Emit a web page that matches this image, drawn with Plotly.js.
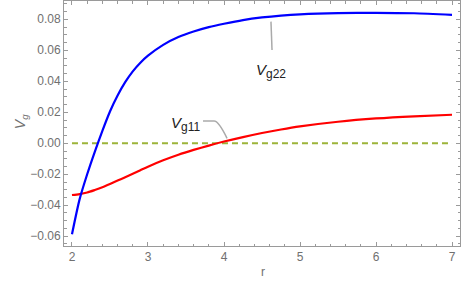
<!DOCTYPE html>
<html>
<head>
<meta charset="utf-8">
<script src="https://cdn.plot.ly/plotly-3.0.1.min.js"></script>
<style>html,body{margin:0;padding:0;background:#fff;}#chart{width:463px;height:292px;}</style>
</head>
<body>
<div id="chart"></div>
<script>
// Data
const r = [2.0, 2.1, 2.2, 2.3, 2.4, 2.5, 2.6, 2.7, 2.8, 2.9, 3.0, 3.2, 3.4, 3.6, 3.8, 4.0, 4.25, 4.5, 4.75, 5.0, 5.5, 6.0, 6.5, 7.0];
const vg22 = [-0.0587, -0.0362, -0.0200, -0.0055, 0.0080, 0.0205, 0.0308, 0.0394, 0.0464, 0.0520, 0.0565, 0.0635, 0.0685, 0.0721, 0.0749, 0.0771, 0.0795, 0.0812, 0.0824, 0.0832, 0.0840, 0.0842, 0.0839, 0.0829];
const vg11 = [-0.0334, -0.0328, -0.0318, -0.0302, -0.0284, -0.0263, -0.0241, -0.0219, -0.0197, -0.0174, -0.0151, -0.0110, -0.0074, -0.0043, -0.0015, 0.0011, 0.0040, 0.0066, 0.0089, 0.0109, 0.0139, 0.0160, 0.0174, 0.0184];
const refR = [2, 7];
const refV = [0, 0];
const xTicks = [2, 3, 4, 5, 6, 7];
const yTicks = [-0.06, -0.04, -0.02, 0.00, 0.02, 0.04, 0.06, 0.08];
const yTickText = ['\u22120.06', '\u22120.04', '\u22120.02', '0.00', '0.02', '0.04', '0.06', '0.08'];

const FONT = 'Liberation Sans, Arial, sans-serif';
const AX = '#9a9a9a';

const traces = [
  {x: refR, y: refV, mode: 'lines', line: {color: '#9cb43a', width: 2, dash: '6px,4px'}, hoverinfo: 'skip'},
  {x: r, y: vg11, mode: 'lines', line: {color: '#ff0000', width: 2.2, shape: 'spline', smoothing: 0.7}},
  {x: r, y: vg22, mode: 'lines', line: {color: '#0000ff', width: 2.2, shape: 'spline', smoothing: 0.7}}
];

const axisCommon = {
  showgrid: false, zeroline: false, showline: true, linecolor: AX, linewidth: 1,
  mirror: 'allticks', ticks: 'inside', ticklen: 4, tickcolor: AX, tickwidth: 1,
  tickfont: {family: FONT, size: 12, color: '#707070'}
};

const layout = {
  width: 463, height: 292,
  margin: {l: 64, r: 3, t: 1, b: 46},
  paper_bgcolor: '#fff', plot_bgcolor: '#fff',
  showlegend: false,
  font: {family: FONT},
  xaxis: Object.assign({}, axisCommon, {
    range: [1.895, 7.105], tickmode: 'array', tickvals: xTicks,
    minor: {dtick: 0.2, ticks: 'inside', ticklen: 2.5, tickcolor: AX, showgrid: false}
  }),
  yaxis: Object.assign({}, axisCommon, {
    range: [-0.0663, 0.0918], tickmode: 'array', tickvals: yTicks, ticktext: yTickText,
    minor: {dtick: 0.005, ticks: 'inside', ticklen: 2.5, tickcolor: AX, showgrid: false}
  }),
  annotations: [
    {xref: 'x', yref: 'y', x: 4.62, y: 0.0466, showarrow: false, text: '<i>V</i><sub><span style="font-size:12px">g22</span></sub>', font: {family: FONT, size: 15, color: '#222'}},
    {xref: 'x', yref: 'y', x: 3.487, y: 0.0125, showarrow: false, text: '<i>V</i><sub><span style="font-size:12px">g11</span></sub>', font: {family: FONT, size: 15, color: '#222'}},
    {xref: 'paper', yref: 'paper', x: -0.136, y: 0.506, showarrow: false, textangle: -90, text: '<i>V</i><sub><i>g</i></sub>', font: {family: FONT, size: 14, color: '#707070'}},
    {xref: 'paper', yref: 'paper', x: 0.5025, y: -0.143, showarrow: false, text: 'r', font: {family: FONT, size: 12, color: '#707070'}}
  ],
  shapes: [
    {type: 'line', xref: 'x', yref: 'y', x0: 4.618, y0: 0.0785, x1: 4.632, y1: 0.0602, line: {color: '#aaaaaa', width: 1.5}},
    {type: 'path', xref: 'x', yref: 'y', path: 'M 3.724 0.0144 L 3.87 0.0144 Q 3.93 0.0144 4.04 0.0032', line: {color: '#aaaaaa', width: 1.5}}
  ]
};

Plotly.newPlot('chart', traces, layout, {staticPlot: true, displayModeBar: false});
</script>
</body>
</html>
